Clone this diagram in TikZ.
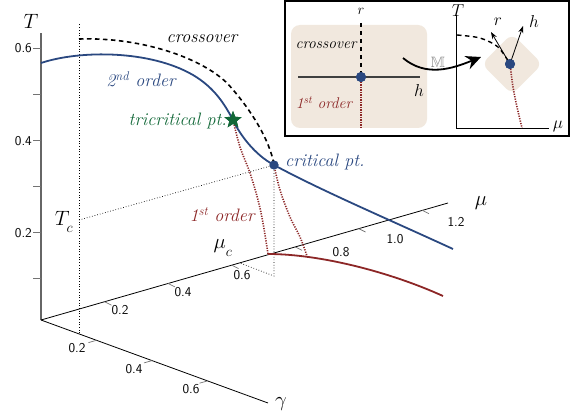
\documentclass[tikz,border=0pt]{standalone}
\usepackage{amsmath,amssymb}
\usepackage{xcolor}
\usepackage{tikz}
\usetikzlibrary{shapes.geometric, arrows.meta, positioning, calc}
\definecolor{ordblue}{RGB}{42,72,128}
\definecolor{ordred}{RGB}{140,38,38}
\definecolor{tcgreen}{RGB}{18,104,56}
\definecolor{beige}{RGB}{241,232,222}
\tikzset{
  axisline/.style={draw=black,line width=0.8pt},
  taxis/.style={draw=black!60,line width=1.2pt},
  gridline/.style={draw=black,dotted,line width=0.7pt},
  tickline/.style={draw=black!55,line width=0.7pt},
  secondline/.style={draw=ordblue,line width=1.8pt},
  firstline/.style={draw=ordred,line width=1.8pt},
  firstdots/.style={draw=ordred,line width=1.6pt,dash pattern=on 1.2pt off 1.3pt},
  crossline/.style={draw=black,line width=1.6pt,dash pattern=on 4.5pt off 3.5pt},
  critdot/.style={circle,fill=ordblue,inner sep=0pt,minimum size=9pt},
  tristar/.style={star,star points=5,star point ratio=2.3,fill=tcgreen,
    inner sep=0pt,minimum size=18pt},
  ticklabel/.style={font=\sffamily\fontsize{13.5}{13.5}\selectfont,inner sep=0pt},
  lbl/.style={font=\itshape\fontsize{18}{18}\selectfont,inner sep=0pt},
  smalllbl/.style={font=\itshape\fontsize{15.5}{15.5}\selectfont,inner sep=0pt},
  mathlbl/.style={font=\fontsize{22}{22}\selectfont,inner sep=0pt},
  insetlbl/.style={font=\fontsize{18}{18}\selectfont,inner sep=0pt},
  rotbox/.style={rectangle,rounded corners=8pt,fill=beige,minimum size=43pt,rotate=45},
  vecarrow/.style={-{Stealth[length=7pt,width=5pt]},line width=0.8pt},
  maparrow/.style={-{Stealth[length=15pt,width=14pt,inset=5pt]},line width=1.8pt}
}

\begin{document}
\begin{tikzpicture}[x=1pt,y=-1pt]
  \useasboundingbox (0,0) rectangle (573,417);

  \coordinate (o) at (41,320);
  \coordinate (ttop) at (41,33);
  \coordinate (mutop) at (448,203);
  \coordinate (gtop) at (268,403);
  \draw[taxis] (o) -- (ttop);
  \draw[axisline] (o) -- (mutop);
  \draw[axisline] (o) -- (gtop);
  \node[mathlbl] (tlab) at (31,21) {$T$};
  \node[mathlbl] (mulab) at (481,203) {$\mu$};
  \node[mathlbl] (glab) at (281,404) {$\gamma$};

  \foreach \k in {1,...,6}
    \draw[tickline] ($(41,324)+(0,-46*\k)$) -- ++(-8,0);
  \foreach \v/\y in {0.2/233,0.4/141,0.6/48}
    \node[ticklabel,anchor=east] at (32,\y) {\v};
  \foreach \k in {1,...,6}
    \draw[tickline] ($(o)+(63.5*\k,-18.3*\k)$) -- ++(7,3.5);
  \foreach \v/\x/\y in {0.2/120/310,0.4/183/292,0.6/242/275,0.8/341/252,1.0/395/239,1.2/456/222}
    \node[ticklabel] at (\x,\y) {\v};
  \foreach \k in {1,2,3}
    \draw[tickline] ($(o)+(55.5*\k,20.3*\k)$) -- ++(-8,2.3);
  \foreach \v/\x/\y in {0.2/77/348,0.4/134/369,0.6/191/389}
    \node[ticklabel] at (\x,\y) {\v};

  \node[critdot] (crit) at (274,165) {};
  \node[tristar] (tri) at (233,120) {};
  \coordinate (gbot) at (79,333);
  \coordinate (gup) at (79,23);
  \coordinate (tc) at (79,220);
  \coordinate (critfoot) at (274,276);
  \coordinate (mucfoot) at (240,263);
  \coordinate (fo) at (268,254);
  \coordinate (foend) at (443,296);
  \coordinate (crossbeg) at (79,39);
  \coordinate (crossmid) at (227,83);
  \coordinate (secbeg) at (41,63);
  \coordinate (secmid) at (193,75);
  \coordinate (secend) at (453,249);

  \draw[gridline] (gbot) -- (gup);
  \draw[gridline] (tc) -- (crit.center);
  \draw[gridline] (crit.center) -- (critfoot) -- (mucfoot);

  \draw[crossline] (crossbeg) .. controls (140,37) and (200,57) .. (crossmid)
    .. controls (250,108) and (270,140) .. (crit.center);
  \draw[secondline] (secbeg) .. controls (80,50) and (150,50) .. (secmid)
    .. controls (215,88) and (225,105) .. (tri.center)
    .. controls (240,135) and (255,155) .. (crit.center)
    .. controls (320,190) and (390,220) .. (secend);
  \draw[firstdots] plot[smooth,tension=0.6] coordinates {(tri.center) (240,147) (250,173)
    (258,200) (263,223) (fo)};
  \draw[firstdots] plot[smooth,tension=0.6] coordinates {(crit.center) (280,190) (290,217)
    (300,237) (307,256)};
  \draw[firstline] (fo) .. controls (320,254) and (390,272) .. (foend);
  \node[critdot] at (crit) {};
  \node[tristar] at (tri) {};

  \node[lbl] (crosslab) at (202,39) {crossover};
  \node[lbl,text=ordblue] (seclab) at (141,79) {2\textsuperscript{nd} order};
  \node[lbl,text=tcgreen,anchor=east] (trilab) at (227,121) {tricritical pt.};
  \node[lbl,text=ordblue,anchor=west] (critlab) at (285,162) {critical pt.};
  \node[lbl,text=ordred] (firstlab) at (222,215) {1\textsuperscript{st} order};
  \node[mathlbl] (tclab) at (64,222) {$T_{\lower4pt\hbox{$\scriptstyle c$}}$};
  \node[mathlbl] (muclab) at (223,248) {$\mu_{\lower4pt\hbox{$\scriptstyle c$}}$};

  % inset
  \draw[line width=2pt,fill=white] (285,1) rectangle (569,136);
  \fill[beige,rounded corners=9pt] (291,25) rectangle (427,128);
  \node[critdot,minimum size=10pt] (ldot) at (361,77) {};
  \coordinate (hl) at (298,77);
  \coordinate (hr) at (420,77);
  \coordinate (rtop) at (361,23);
  \coordinate (lbot) at (361,128);
  \draw[draw=black!75,line width=1.1pt] (hl) -- (hr);
  \draw[crossline] (rtop) -- (ldot.center);
  \draw[firstdots] (ldot.center) -- (lbot);
  \node[critdot,minimum size=10pt] at (ldot) {};
  \node[insetlbl,font=\fontsize{15}{15}\selectfont] (rlab) at (361,11) {$r$};
  \node[insetlbl] (hlab) at (419,91) {$h$};
  \node[smalllbl] (icross) at (326,45) {crossover};
  \node[smalllbl,text=ordred] (ifirst) at (324,103) {1\textsuperscript{st} order};

  \coordinate (mapfrom) at (403,58);
  \coordinate (mapto) at (481,57);
  \draw[maparrow] (mapfrom) to[out=-40,in=-158] (mapto);
  \node[insetlbl,font=\fontsize{15}{15}\selectfont,text=black!45] (mlab) at (438,62) {$\mathbb{M}$};

  \coordinate (itop) at (456,15);
  \coordinate (io) at (456,128);
  \coordinate (iright) at (549,128);
  \node[rotbox] (rot) at (512,64) {};
  \draw[axisline,line width=0.9pt] (itop) -- (io) -- (iright);
  \node[insetlbl,font=\fontsize{17}{17}\selectfont] (itlab) at (458,11) {$T$};
  \node[insetlbl,font=\fontsize{17}{17}\selectfont] (imulab) at (558,126) {$\mu$};
  \node[critdot,minimum size=10pt] (rdot) at (510,64) {};
  \coordinate (rtip) at (491,32);
  \coordinate (htip) at (523,26);
  \draw[crossline,line width=1.4pt] plot[smooth] coordinates {(457,35) (480,38) (498,47) (rdot.center)};
  \draw[firstdots] plot[smooth] coordinates {(rdot.center) (513,87) (517,107) (522,128)};
  \draw[vecarrow] (rdot.center) -- (rtip);
  \draw[vecarrow] (rdot.center) -- (htip);
  \node[critdot,minimum size=10pt] at (rdot) {};
  \node[insetlbl] (irlab) at (498,22) {$r$};
  \node[insetlbl] (ihlab) at (534,22) {$h$};
\end{tikzpicture}
\end{document}
